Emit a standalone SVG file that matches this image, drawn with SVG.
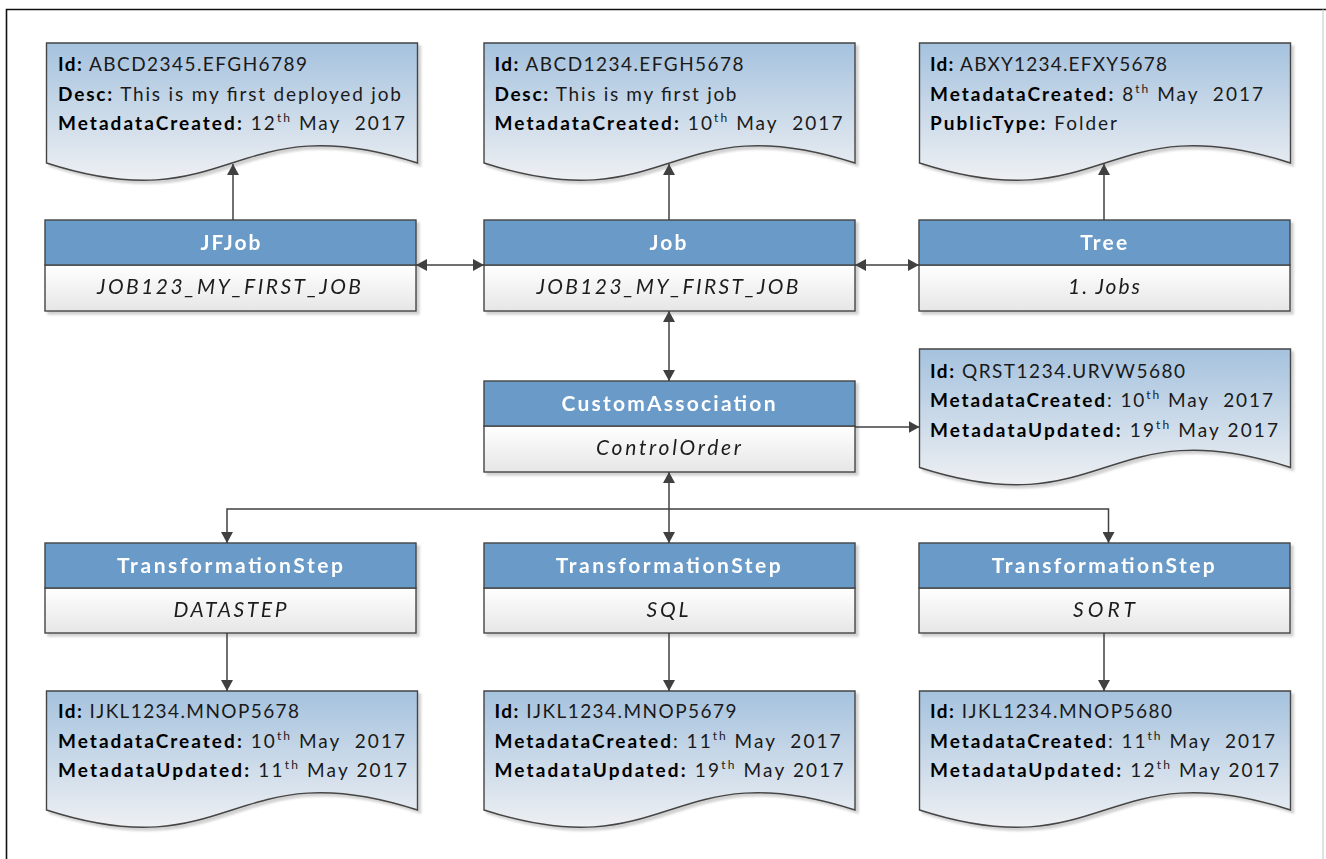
<svg xmlns="http://www.w3.org/2000/svg" width="1326" height="859" viewBox="0 0 1326 859">
<style>
.frame{fill:none;stroke:#111;stroke-width:1.6}
.frameR{fill:none;stroke:#cfcfcf;stroke-width:1.2}
.doc{fill:url(#docGrad);stroke:#454545;stroke-width:1.4;filter:url(#sh)}
.hdr{fill:#6a9bc8;stroke:#454545;stroke-width:1.4}
.body{fill:url(#bodyGrad);stroke:#454545;stroke-width:1.4}
.box{filter:url(#sh)}
.htxt{font-family:Lato,'Open Sans',sans-serif;font-weight:700;font-size:21px;fill:#ffffff;text-anchor:middle}
.stxt{font-family:Lato,'Open Sans',sans-serif;font-style:italic;font-size:21px;fill:#1e1e1e;text-anchor:middle}
.dtxt{font-family:Lato,'Open Sans',sans-serif;font-size:19px;fill:#1a1a1a;white-space:pre}
.b{font-weight:700;fill:#000}
.sup{font-size:12px}
.conn{fill:none;stroke:#404040;stroke-width:1.5}
</style>
<defs>
<linearGradient id="docGrad" x1="0" y1="0" x2="0" y2="1">
<stop offset="0" stop-color="#a5c2de"/>
<stop offset="1" stop-color="#eef0f3"/>
</linearGradient>
<linearGradient id="bodyGrad" x1="0" y1="0" x2="0" y2="1">
<stop offset="0" stop-color="#ffffff"/>
<stop offset="1" stop-color="#e6e6e6"/>
</linearGradient>
<filter id="sh" x="-5%" y="-5%" width="112%" height="120%">
<feDropShadow dx="3" dy="3" stdDeviation="1.2" flood-color="#000" flood-opacity="0.18"/>
</filter>
<marker id="ah" viewBox="0 0 11 12" refX="11" refY="6" markerWidth="11" markerHeight="12" markerUnits="userSpaceOnUse" orient="auto-start-reverse">
<path d="M0,0 L11,6 L0,12 Z" fill="#404040"/>
</marker>
</defs>

<rect width="1326" height="859" fill="#ffffff"/>
<path class="frame" d="M6.5,870 V9.5 H1326"/>
<path class="frameR" d="M1323,9.5 V859"/>

<!-- Documents -->
<g id="doc1">
<path class="doc" d="M46.5,43 H417.5 V163 C232,103 232,223 46.5,163 Z"/>
<text class="dtxt" x="58" y="71" textLength="249" lengthAdjust="spacing"><tspan class="b">Id:</tspan> ABCD2345.EFGH6789</text>
<text class="dtxt" x="58" y="100.5" textLength="343" lengthAdjust="spacing"><tspan class="b">Desc:</tspan> This is my first deployed job</text>
<text class="dtxt" x="58" y="129.5" textLength="347" lengthAdjust="spacing"><tspan class="b">MetadataCreated:</tspan> 12<tspan class="sup" dy="-8">th</tspan><tspan dy="8"> May  2017</tspan></text>
</g>
<g id="doc2">
<path class="doc" d="M484,43 H855 V163 C669.5,103 669.5,223 484,163 Z"/>
<text class="dtxt" x="494.5" y="71" textLength="249" lengthAdjust="spacing"><tspan class="b">Id:</tspan> ABCD1234.EFGH5678</text>
<text class="dtxt" x="494.5" y="100.5" textLength="242" lengthAdjust="spacing"><tspan class="b">Desc:</tspan> This is my first job</text>
<text class="dtxt" x="494.5" y="129.5" textLength="348" lengthAdjust="spacing"><tspan class="b">MetadataCreated:</tspan> 10<tspan class="sup" dy="-8">th</tspan><tspan dy="8"> May  2017</tspan></text>
</g>
<g id="doc3">
<path class="doc" d="M919.5,43 H1290.5 V163 C1105,103 1105,223 919.5,163 Z"/>
<text class="dtxt" x="930" y="71" textLength="237" lengthAdjust="spacing"><tspan class="b">Id:</tspan> ABXY1234.EFXY5678</text>
<text class="dtxt" x="930" y="100.5" textLength="333" lengthAdjust="spacing"><tspan class="b">MetadataCreated:</tspan> 8<tspan class="sup" dy="-8">th</tspan><tspan dy="8"> May  2017</tspan></text>
<text class="dtxt" x="930" y="129.5" textLength="187" lengthAdjust="spacing"><tspan class="b">PublicType:</tspan> Folder</text>
</g>
<g id="doc4">
<path class="doc" d="M919.5,349 H1290.5 V467.5 C1105,407.5 1105,527.5 919.5,467.5 Z"/>
<text class="dtxt" x="930" y="377.5" textLength="255" lengthAdjust="spacing"><tspan class="b">Id:</tspan> QRST1234.URVW5680</text>
<text class="dtxt" x="930" y="407" textLength="343" lengthAdjust="spacing"><tspan class="b">MetadataCreated</tspan>: 10<tspan class="sup" dy="-8">th</tspan><tspan dy="8"> May  2017</tspan></text>
<text class="dtxt" x="930" y="436.5" textLength="348" lengthAdjust="spacing"><tspan class="b">MetadataUpdated:</tspan> 19<tspan class="sup" dy="-8">th</tspan><tspan dy="8"> May 2017</tspan></text>
</g>
<g id="doc5">
<path class="doc" d="M46.5,691 H417.5 V810 C232,750 232,870 46.5,810 Z"/>
<text class="dtxt" x="58" y="718" textLength="241" lengthAdjust="spacing"><tspan class="b">Id:</tspan> IJKL1234.MNOP5678</text>
<text class="dtxt" x="58" y="748" textLength="347" lengthAdjust="spacing"><tspan class="b">MetadataCreated:</tspan> 10<tspan class="sup" dy="-8">th</tspan><tspan dy="8"> May  2017</tspan></text>
<text class="dtxt" x="58" y="777" textLength="349" lengthAdjust="spacing"><tspan class="b">MetadataUpdated:</tspan> 11<tspan class="sup" dy="-8">th</tspan><tspan dy="8"> May 2017</tspan></text>
</g>
<g id="doc6">
<path class="doc" d="M484,691 H855 V810 C669.5,750 669.5,870 484,810 Z"/>
<text class="dtxt" x="494.5" y="718" textLength="242" lengthAdjust="spacing"><tspan class="b">Id:</tspan> IJKL1234.MNOP5679</text>
<text class="dtxt" x="494.5" y="748" textLength="346" lengthAdjust="spacing"><tspan class="b">MetadataCreated</tspan>: 11<tspan class="sup" dy="-8">th</tspan><tspan dy="8"> May  2017</tspan></text>
<text class="dtxt" x="494.5" y="777" textLength="349" lengthAdjust="spacing"><tspan class="b">MetadataUpdated:</tspan> 19<tspan class="sup" dy="-8">th</tspan><tspan dy="8"> May 2017</tspan></text>
</g>
<g id="doc7">
<path class="doc" d="M919.5,691 H1290.5 V810 C1105,750 1105,870 919.5,810 Z"/>
<text class="dtxt" x="930" y="718" textLength="242" lengthAdjust="spacing"><tspan class="b">Id:</tspan> IJKL1234.MNOP5680</text>
<text class="dtxt" x="930" y="748" textLength="345" lengthAdjust="spacing"><tspan class="b">MetadataCreated</tspan>: 11<tspan class="sup" dy="-8">th</tspan><tspan dy="8"> May  2017</tspan></text>
<text class="dtxt" x="930" y="777" textLength="349" lengthAdjust="spacing"><tspan class="b">MetadataUpdated:</tspan> 12<tspan class="sup" dy="-8">th</tspan><tspan dy="8"> May 2017</tspan></text>
</g>

<!-- Class nodes -->
<g id="jfjob" class="box">
<rect class="body" x="45" y="265" width="371" height="46"/>
<rect class="hdr" x="45" y="220" width="371" height="45"/>
<text class="htxt" x="230.5" y="250" textLength="60" lengthAdjust="spacing">JFJob</text>
<text class="stxt" x="229" y="294" textLength="264" lengthAdjust="spacing">JOB123_MY_FIRST_JOB</text>
</g>
<g id="job" class="box">
<rect class="body" x="484" y="265" width="371" height="46"/>
<rect class="hdr" x="484" y="220" width="371" height="45"/>
<text class="htxt" x="668" y="250" textLength="37" lengthAdjust="spacing">Job</text>
<text class="stxt" x="667.5" y="294" textLength="262" lengthAdjust="spacing">JOB123_MY_FIRST_JOB</text>
</g>
<g id="tree" class="box">
<rect class="body" x="919" y="265" width="371" height="46"/>
<rect class="hdr" x="919" y="220" width="371" height="45"/>
<text class="htxt" x="1103.7" y="250" textLength="47" lengthAdjust="spacing">Tree</text>
<text class="stxt" x="1104" y="294" textLength="72" lengthAdjust="spacing">1. Jobs</text>
</g>
<g id="customassociation" class="box">
<rect class="body" x="484" y="426" width="371" height="46"/>
<rect class="hdr" x="484" y="381" width="371" height="45"/>
<text class="htxt" x="668.5" y="411" textLength="214" lengthAdjust="spacing">CustomAssociation</text>
<text class="stxt" x="668.5" y="455" textLength="145" lengthAdjust="spacing">ControlOrder</text>
</g>
<g id="ts-datastep" class="box">
<rect class="body" x="45" y="588" width="371" height="45"/>
<rect class="hdr" x="45" y="543" width="371" height="45"/>
<text class="htxt" x="230" y="573" textLength="226" lengthAdjust="spacing">TransformationStep</text>
<text class="stxt" x="230" y="617" textLength="113" lengthAdjust="spacing">DATASTEP</text>
</g>
<g id="ts-sql" class="box">
<rect class="body" x="484" y="588" width="371" height="45"/>
<rect class="hdr" x="484" y="543" width="371" height="45"/>
<text class="htxt" x="668.3" y="573" textLength="225" lengthAdjust="spacing">TransformationStep</text>
<text class="stxt" x="667.5" y="617" textLength="42" lengthAdjust="spacing">SQL</text>
</g>
<g id="ts-sort" class="box">
<rect class="body" x="919" y="588" width="371" height="45"/>
<rect class="hdr" x="919" y="543" width="371" height="45"/>
<text class="htxt" x="1103.3" y="573" textLength="223" lengthAdjust="spacing">TransformationStep</text>
<text class="stxt" x="1104" y="617" textLength="62" lengthAdjust="spacing">SORT</text>
</g>

<!-- Connectors -->
<g id="connectors">
<path class="conn" d="M233,220 V164" marker-end="url(#ah)"/>
<path class="conn" d="M669,220 V164" marker-end="url(#ah)"/>
<path class="conn" d="M1104,220 V164" marker-end="url(#ah)"/>
<path class="conn" d="M416,265 H484" marker-start="url(#ah)" marker-end="url(#ah)"/>
<path class="conn" d="M855,265 H919" marker-start="url(#ah)" marker-end="url(#ah)"/>
<path class="conn" d="M669,311 V381" marker-start="url(#ah)" marker-end="url(#ah)"/>
<path class="conn" d="M855,427 H919.5" marker-end="url(#ah)"/>
<path class="conn" d="M669,472 V543" marker-start="url(#ah)" marker-end="url(#ah)"/>
<path class="conn" d="M669,509 H227 V543" marker-end="url(#ah)"/>
<path class="conn" d="M669,509 H1108.5 V543" marker-end="url(#ah)"/>
<path class="conn" d="M227,633 V691" marker-end="url(#ah)"/>
<path class="conn" d="M669,633 V691" marker-end="url(#ah)"/>
<path class="conn" d="M1104,633 V691" marker-end="url(#ah)"/>
</g>
</svg>
